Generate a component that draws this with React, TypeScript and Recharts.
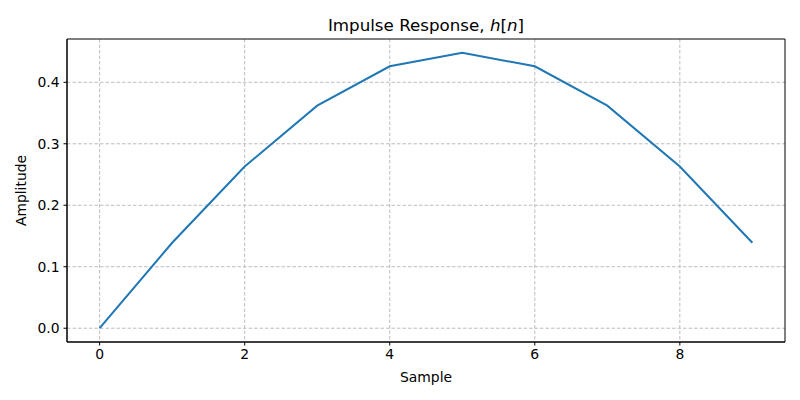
import { CartesianGrid, Line, LineChart, ReferenceArea, XAxis, YAxis } from "recharts";

const samples = [0, 1, 2, 3, 4, 5, 6, 7, 8, 9];
const amplitude = [0, 0.139, 0.263, 0.362, 0.426, 0.448, 0.426, 0.362, 0.263, 0.139];
const xTicks = [0, 2, 4, 6, 8];
const yTicks = [0, 0.1, 0.2, 0.3, 0.4];

const data = samples.map((n, i) => ({ n, h: amplitude[i] }));

const xDomain = [-0.45, 9.45];
const yDomain = [-0.0224, 0.4704];

const font = "'DejaVu Sans', sans-serif";
const tickStyle = { fontSize: 13.9, fill: "#000", fontFamily: font };

export default function App() {
  return (
    <div style={{ position: "fixed", left: 0, top: 0, width: 800, height: 400, background: "#fff" }}>
      <div
        style={{
          position: "absolute",
          left: 67,
          width: 718,
          top: 15,
          textAlign: "center",
          fontFamily: font,
          fontSize: 16.7,
          color: "#000",
        }}
      >
        Impulse Response, <i>h</i>[<i>n</i>]
      </div>
      <LineChart width={800} height={400} data={data} margin={{ top: 39, right: 15, bottom: 0, left: 0 }}>
        <CartesianGrid stroke="#bdbdbd" strokeDasharray="3.5 2" strokeWidth={1} horizontalValues={yTicks} verticalValues={xTicks} />
        <XAxis
          dataKey="n"
          type="number"
          domain={xDomain}
          ticks={xTicks}
          allowDataOverflow
          height={58}
          tickSize={3.5}
          tickMargin={4}
          tick={tickStyle}
          tickLine={{ stroke: "#000" }}
          axisLine={{ stroke: "#000" }}
          label={{ value: "Sample", position: "insideBottom", offset: 18, style: { ...tickStyle } }}
        />
        <YAxis
          type="number"
          domain={yDomain}
          ticks={yTicks}
          allowDataOverflow
          width={67}
          tickSize={3.5}
          tickMargin={4}
          tick={tickStyle}
          tickLine={{ stroke: "#000" }}
          axisLine={{ stroke: "#000" }}
          tickFormatter={(v: number) => v.toFixed(1)}
          label={{ value: "Amplitude", angle: -90, position: "insideLeft", offset: 21, style: { ...tickStyle, textAnchor: "middle" } }}
        />
        <ReferenceArea x1={xDomain[0]} x2={xDomain[1]} y1={yDomain[0]} y2={yDomain[1]} fill="none" stroke="#000" strokeWidth={1} />
        <Line type="linear" dataKey="h" stroke="#1f77b4" strokeWidth={2} dot={false} isAnimationActive={false} />
      </LineChart>
    </div>
  );
}
